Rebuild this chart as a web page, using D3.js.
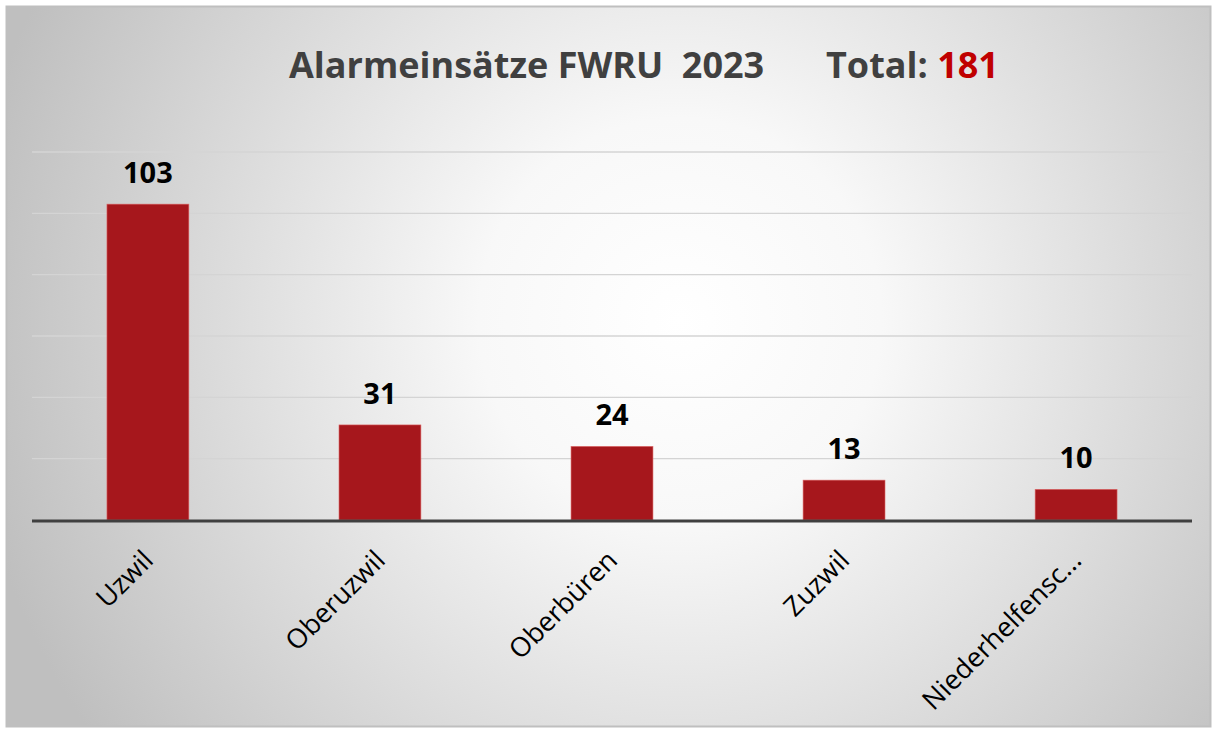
<!DOCTYPE html>
<meta charset="utf-8">
<style>
    body { margin: 0; background: #fff; }
    text { font-family: "Open Sans", sans-serif; white-space: pre; }
    .grid line { stroke: #d4d4d4; stroke-width: 1.3; }
    .bar { fill: #a6171c; stroke: #d66; stroke-width: 0.6; }
</style>
<svg width="1213" height="729"></svg>
<script src="https://d3js.org/d3.v7.min.js"></script>
<script>

    var categories = ["Uzwil", "Oberuzwil", "Oberbüren", "Zuzwil", "Niederhelfensc..."];
    var values = [103, 31, 24, 13, 10];
    var gridTicks = [0, 20, 40, 60, 80, 100, 120];
    var titleText = "Alarmeinsätze FWRU  2023";
    var totalLabel = "Total: ";
    var totalValue = 181;

    var svg = d3.select("svg");

    var defs = svg.append("defs");
    var grad = defs.append("radialGradient")
        .attr("id", "bg")
        .attr("gradientUnits", "userSpaceOnUse")
        .attr("cx", 680).attr("cy", 320).attr("r", 720);
    grad.append("stop").attr("offset", "0%").attr("stop-color", "#ffffff");
    grad.append("stop").attr("offset", "28%").attr("stop-color", "#f8f8f8");
    grad.append("stop").attr("offset", "100%").attr("stop-color", "#bfbfbf");

    svg.append("rect")
        .attr("x", 6.5).attr("y", 6.5)
        .attr("width", 1204).attr("height", 720)
        .attr("fill", "url(#bg)")
        .attr("stroke", "#bfbfbf")
        .attr("stroke-width", 2);

    var margin = {left: 32, right: 21, top: 152, bottom: 209};
    var plotW = 1213 - margin.left - margin.right,
        plotH = 729 - margin.top - margin.bottom;

    var x = d3.scaleBand()
        .domain(categories)
        .range([margin.left, margin.left + plotW])
        .paddingInner(0.647)
        .paddingOuter(0.323);

    var y = d3.scaleLinear()
        .domain([0, 120])
        .range([margin.top + plotH, margin.top]);

    svg.append("g")
        .attr("class", "grid")
        .selectAll("line")
        .data(gridTicks.slice(1))
        .join("line")
        .attr("x1", margin.left).attr("x2", margin.left + plotW)
        .attr("y1", function(d) { return y(d); })
        .attr("y2", function(d) { return y(d); });

    svg.append("g")
        .selectAll("rect")
        .data(values)
        .join("rect")
        .attr("class", "bar")
        .attr("x", function(d, i) { return x(categories[i]); })
        .attr("width", x.bandwidth())
        .attr("y", function(d) { return y(d); })
        .attr("height", function(d) { return y(0) - y(d); });

    svg.append("g")
        .selectAll("text")
        .data(values)
        .join("text")
        .attr("x", function(d, i) { return x(categories[i]) + x.bandwidth() / 2; })
        .attr("y", function(d) { return y(d) - 21; })
        .attr("text-anchor", "middle")
        .attr("font-size", 29)
        .attr("font-weight", "bold")
        .attr("fill", "#000")
        .text(function(d) { return d; });

    // baseline
    svg.append("line")
        .attr("x1", margin.left).attr("x2", margin.left + plotW)
        .attr("y1", y(0) + 1).attr("y2", y(0) + 1)
        .attr("stroke", "#404040")
        .attr("stroke-width", 3);

    // category labels
    svg.append("g")
        .selectAll("text")
        .data(categories)
        .join("text")
        .attr("transform", function(d) {
            return "translate(" + (x(d) + x.bandwidth() / 2 + 7) + "," + (y(0) + 42) + ") rotate(-45)";
        })
        .attr("text-anchor", "end")
        .attr("font-size", 27)
        .attr("fill", "#000")
        .text(function(d) { return d; });

    var title = svg.append("text")
        .attr("x", 289)
        .attr("y", 78)
        .attr("font-size", 36)
        .attr("font-weight", "bold")
        .attr("fill", "#404040");
    title.append("tspan").text(titleText);
    title.append("tspan").attr("x", 826).text(totalLabel);
    title.append("tspan").attr("fill", "#c00000").text(totalValue);

</script>
